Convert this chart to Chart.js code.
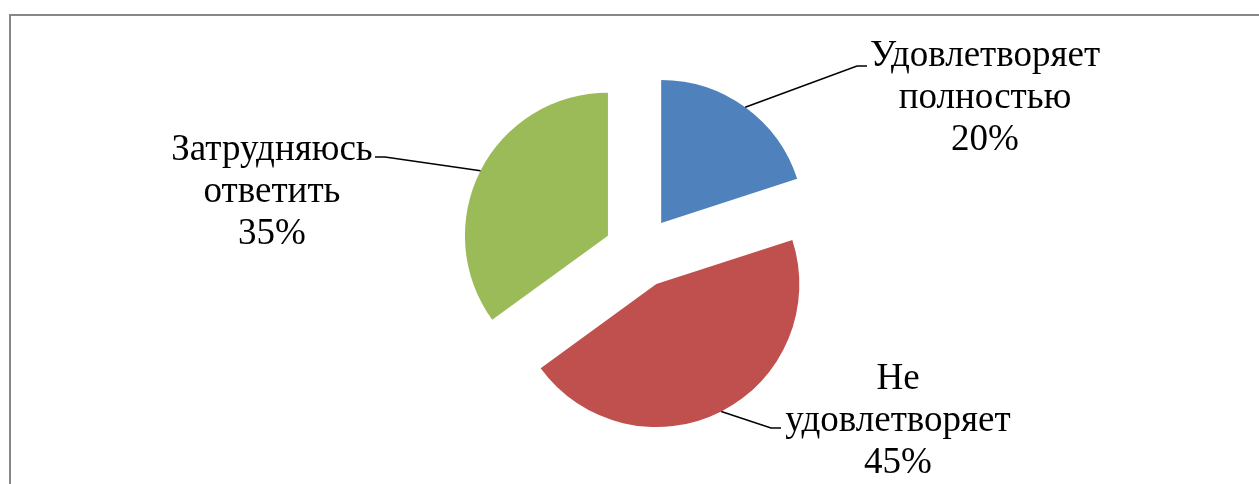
<!DOCTYPE html>
<html>
<head>
<meta charset="utf-8">
<script src="https://cdn.jsdelivr.net/npm/chart.js@4/dist/chart.umd.min.js"></script>
<style>
  html, body { margin: 0; padding: 0; background: #ffffff; }
  #wrap { position: relative; width: 1259px; height: 484px; overflow: hidden; background: #fff; }
  #frame { position: absolute; left: 9px; top: 14px; width: 1400px; height: 700px;
           border-left: 2px solid #878787; border-top: 2px solid #878787; box-sizing: border-box; }
  canvas { position: absolute; left: 0; top: 0; }
</style>
</head>
<body>
<div id="wrap">
  <div id="frame"></div>
  <canvas id="c" width="1259" height="484"></canvas>
</div>
<script>
// ---- data ----
const categories = ['Удовлетворяет полностью', 'Не удовлетворяет', 'Затрудняюсь ответить'];
const labelLines = [['Удовлетворяет', 'полностью'], ['Не', 'удовлетворяет'], ['Затрудняюсь', 'ответить']];
const values = [20, 45, 35];

// ---- style ----
const colors = ['#4F81BD', '#C0504D', '#9BBB59'];
const EXPLODE = [36, 36, 36];
const RADIUS = 143;
const FONT = '37px "Liberation Serif", "Times New Roman", serif';
const LINE_H = 42;
// label placement: text centre x, first baseline y, leader elbow and end points
const labelPos = [
  { cx: 985, y0: 66,  elbow: [857, 66],  end: [867, 66] },
  { cx: 898, y0: 389, elbow: [771, 428], end: [781, 428] },
  { cx: 272, y0: 160, elbow: [385, 157], end: [375, 157] }
];

const explodePlugin = {
  id: 'explode',
  afterDatasetsUpdate(chart) {
    const meta = chart.getDatasetMeta(0);
    meta.data.forEach((arc, i) => {
      const mid = (arc.startAngle + arc.endAngle) / 2;
      arc.x += Math.cos(mid) * EXPLODE[i];
      arc.y += Math.sin(mid) * EXPLODE[i];
    });
  }
};

const labelPlugin = {
  id: 'pieLabels',
  afterDatasetsDraw(chart) {
    const ctx = chart.ctx;
    const meta = chart.getDatasetMeta(0);
    const total = values.reduce((a, b) => a + b, 0);
    ctx.save();
    meta.data.forEach((arc, i) => {
      const mid = (arc.startAngle + arc.endAngle) / 2;
      const ax = arc.x + Math.cos(mid) * arc.outerRadius;
      const ay = arc.y + Math.sin(mid) * arc.outerRadius;
      const p = labelPos[i];
      ctx.strokeStyle = '#000';
      ctx.lineWidth = 1.5;
      ctx.beginPath();
      ctx.moveTo(ax, ay);
      ctx.lineTo(p.elbow[0], p.elbow[1]);
      ctx.lineTo(p.end[0], p.end[1]);
      ctx.stroke();
      ctx.fillStyle = '#000';
      ctx.font = FONT;
      ctx.textAlign = 'center';
      ctx.textBaseline = 'alphabetic';
      const lines = labelLines[i].concat([Math.round(values[i] / total * 100) + '%']);
      lines.forEach((t, k) => ctx.fillText(t, p.cx, p.y0 + k * LINE_H));
    });
    ctx.restore();
  }
};

new Chart(document.getElementById('c'), {
  type: 'pie',
  data: {
    labels: categories,
    datasets: [{
      data: values,
      backgroundColor: colors,
      borderWidth: 0,
      radius: RADIUS
    }]
  },
  options: {
    responsive: false,
    animation: false,
    events: [],
    layout: { padding: { left: 21, top: 20, right: 0, bottom: 0 } },
    plugins: { legend: { display: false }, tooltip: { enabled: false } }
  },
  plugins: [explodePlugin, labelPlugin]
});
</script>
</body>
</html>
